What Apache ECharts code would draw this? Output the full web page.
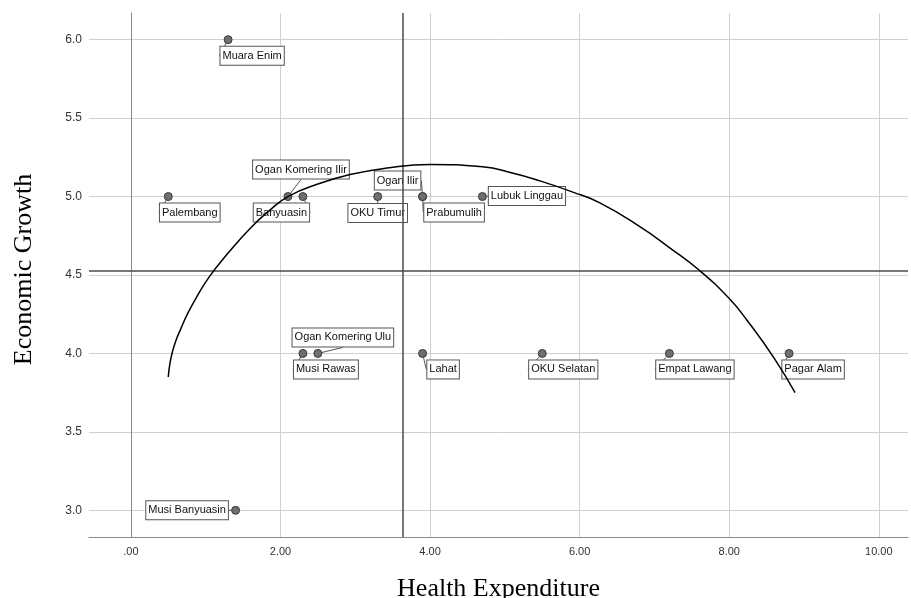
<!DOCTYPE html>
<html>
<head>
<meta charset="utf-8">
<script src="https://cdn.jsdelivr.net/npm/echarts@6/dist/echarts.min.js"></script>
<style>
html,body{margin:0;padding:0;background:#fff;}
#chart{width:911px;height:598px;}
</style>
</head>
<body>
<div id="chart"></div>
<script>
// Regions (point labels)
var regionNames = ['Muara Enim','Palembang','Ogan Komering Ilir','Banyuasin','OKU Timur','Ogan Ilir','Prabumulih','Lubuk Linggau','Ogan Komering Ulu','Musi Rawas','Lahat','OKU Selatan','Empat Lawang','Pagar Alam','Musi Banyuasin'];
// Health Expenditure (x)
var healthExp = [1.3, 0.5, 2.1, 2.3, 3.3, 3.9, 3.9, 4.7, 2.5, 2.3, 3.9, 5.5, 7.2, 8.8, 1.4];
// Economic Growth (y)
var econGrowth = [6.0, 5.0, 5.0, 5.0, 5.0, 5.0, 5.0, 5.0, 4.0, 4.0, 4.0, 4.0, 4.0, 4.0, 3.0];
// Reference lines (means)
var refX = 3.63;
var refY = 4.53;
// Fitted curve, points
var curveX = [0.50, 0.52, 0.55, 0.60, 0.67, 0.76, 0.88, 1.05, 1.30, 1.60, 1.85, 2.10, 2.50, 2.93, 3.40, 4.00, 4.70, 5.10, 5.47, 5.90, 6.27, 6.80, 7.20, 7.60, 8.00, 8.24, 8.60, 8.88];
var curveY = [3.85, 3.93, 4.00, 4.08, 4.16, 4.255, 4.36, 4.49, 4.64, 4.80, 4.91, 5.00, 5.08, 5.14, 5.18, 5.205, 5.19, 5.15, 5.10, 5.03, 4.96, 4.81, 4.675, 4.53, 4.35, 4.21, 3.97, 3.75];
// Axis ticks
var xTicks = [0, 2, 4, 6, 8, 10];
var yTicks = [3.0, 3.5, 4.0, 4.5, 5.0, 5.5, 6.0];

// label placement offsets (style, px)
var labelOffsets = [[24,16],[21.5,16],[13,-27],[-21.5,16],[0,16.5],[-25,-16],[31.5,16],[44.5,-0.5],[25,-16],[23,16],[20.5,16],[21,16],[25.5,16],[24,16],[-48.5,0]];

var scatterData = healthExp.map(function(x, i){ return { name: regionNames[i], value: [x, econGrowth[i]] }; });
var curveData = curveX.map(function(x, i){ return [x, curveY[i]]; });

var chart = echarts.init(document.getElementById('chart'), null, {renderer:'canvas'});
chart.setOption({
  backgroundColor: '#ffffff',
  animation: false,
  grid: { left: 89, right: 3, top: 13, bottom: 61, containLabel: false, outerBoundsMode: 'none' },
  xAxis: {
    type: 'value', min: -0.56, max: 10.39,
    name: 'Health Expenditure', nameLocation: 'middle', nameGap: 39,
    nameTextStyle: { fontFamily: 'Liberation Serif', fontSize: 26, color: '#000' },
    axisLine: { show: true, lineStyle: { color: '#8a8a8a', width: 1 } },
    axisTick: { show: false, customValues: xTicks },
    axisLabel: { fontFamily: 'Liberation Sans', fontSize: 11, color: '#333', margin: 9,
      customValues: xTicks,
      formatter: function(v){ var s = v.toFixed(2); return s.charAt(0)==='0' ? s.substring(1) : s; } },
    splitLine: { show: true, lineStyle: { color: '#cfcfcf', width: 1 } }
  },
  yAxis: {
    type: 'value', min: 2.83, max: 6.17,
    name: 'Economic Growth', nameLocation: 'middle', nameGap: 52,
    nameTextStyle: { fontFamily: 'Liberation Serif', fontSize: 26, color: '#000', padding: [0, 0, 0, 11] },
    axisLine: { show: true, lineStyle: { color: '#8a8a8a', width: 1 } },
    axisTick: { show: false, customValues: yTicks },
    axisLabel: { fontFamily: 'Liberation Sans', fontSize: 12, color: '#333', margin: 7,
      customValues: yTicks,
      formatter: function(v){ return v.toFixed(1); } },
    splitLine: { show: true, lineStyle: { color: '#cfcfcf', width: 1 } }
  },
  series: [
    {
      type: 'scatter', z: 2,
      data: scatterData,
      symbol: 'circle', symbolSize: 8,
      itemStyle: { color: '#6e6e6e', borderColor: '#3a3a3a', borderWidth: 1, opacity: 1 },
      label: {
        show: true, position: 'inside', formatter: '{b}',
        fontFamily: 'Liberation Sans', fontSize: 11, color: '#111',
        backgroundColor: '#ffffff', borderColor: '#555', borderWidth: 1,
        padding: [4, 2, 3, 2]
      },
      labelLayout: function(p){ var o = labelOffsets[p.dataIndex]; return { dx: o[0], dy: o[1] }; },
      labelLine: { show: true, lineStyle: { color: '#555', width: 1 } }
    },
    {
      type: 'line', z: 5,
      data: curveData, smooth: true, showSymbol: false, symbol: 'none',
      lineStyle: { color: '#000', width: 1.5 },
      markLine: {
        silent: true, symbol: ['none','none'], label: { show: false },
        lineStyle: { color: '#4a4a4a', width: 1.5, type: 'solid' },
        data: [ { xAxis: refX }, { yAxis: refY } ]
      }
    }
  ]
});
</script>
</body>
</html>
